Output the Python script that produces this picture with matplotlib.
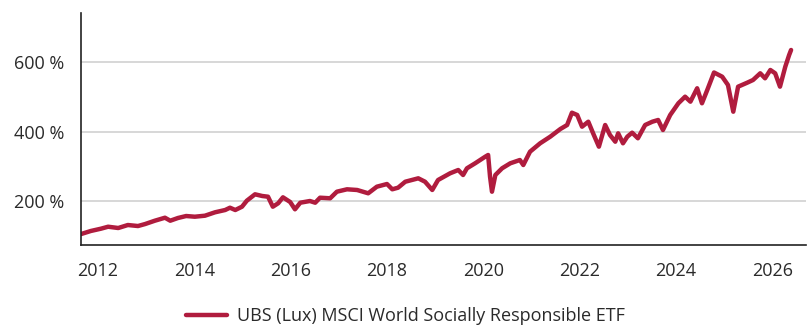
import matplotlib
matplotlib.use("Agg")
import matplotlib.pyplot as plt
from matplotlib.ticker import FuncFormatter

plt.rcParams['font.family'] = ['Open Sans', 'DejaVu Sans']

# Cumulative performance (%), sampled over time (decimal years)
years = [
    2011.65, 2011.85, 2012.06, 2012.21, 2012.42, 2012.62, 2012.83, 2012.98,
    2013.18, 2013.39, 2013.50, 2013.66, 2013.83, 2014.01, 2014.22, 2014.43,
    2014.64, 2014.74, 2014.85, 2014.99, 2015.09, 2015.26, 2015.41, 2015.53,
    2015.63, 2015.74, 2015.84, 2015.99, 2016.09, 2016.20, 2016.40, 2016.51,
    2016.61, 2016.82, 2016.96, 2017.17, 2017.38, 2017.61, 2017.79, 2018.00,
    2018.11, 2018.23, 2018.38, 2018.65, 2018.79, 2018.94, 2019.06, 2019.31,
    2019.48, 2019.58, 2019.66, 2019.83, 2020.04, 2020.10, 2020.14, 2020.18,
    2020.25, 2020.39, 2020.56, 2020.76, 2020.83, 2020.97, 2021.18, 2021.39,
    2021.60, 2021.74, 2021.84, 2021.95, 2022.05, 2022.18, 2022.28, 2022.40,
    2022.53, 2022.63, 2022.74, 2022.80, 2022.90, 2022.99, 2023.09, 2023.21,
    2023.36, 2023.51, 2023.63, 2023.73, 2023.88, 2024.05, 2024.19, 2024.30,
    2024.44, 2024.54, 2024.65, 2024.79, 2024.96, 2025.08, 2025.19, 2025.29,
    2025.48, 2025.60, 2025.75, 2025.85, 2025.96, 2026.06, 2026.16, 2026.27,
    2026.35, 2026.39,
]
performance = [
    105.0, 113.7, 120.3, 126.0, 122.3, 130.9, 128.0, 133.8,
    143.3, 151.9, 143.3, 151.1, 156.8, 154.8, 157.7, 167.5,
    174.1, 180.7, 174.1, 183.6, 200.9, 219.3, 214.4, 212.4,
    183.6, 193.4, 210.6, 197.1, 176.1, 195.1, 200.0, 195.1,
    209.5, 207.8, 226.8, 233.7, 231.7, 222.2, 241.2, 248.9,
    233.7, 238.3, 255.5, 265.3, 255.5, 231.7, 260.4, 279.7,
    289.2, 274.8, 294.1, 308.5, 327.5, 332.4, 269.9, 226.8,
    274.8, 294.1, 308.5, 318.0, 303.6, 341.9, 366.1, 385.1,
    407.2, 418.7, 454.1, 447.5, 413.8, 428.2, 394.8, 356.3,
    418.7, 390.0, 370.7, 394.8, 366.1, 385.1, 396.6, 380.5,
    418.7, 428.2, 433.1, 404.3, 447.5, 481.2, 500.2, 485.8,
    524.4, 481.2, 519.5, 569.8, 557.7, 533.8, 457.0, 529.0,
    540.5, 548.2, 567.5, 553.1, 577.0, 567.5, 529.0, 586.5,
    620.2, 634.6,
]
series_name = "UBS (Lux) MSCI World Socially Responsible ETF"
y_ticks = [200, 400, 600]
x_ticks = [2012, 2014, 2016, 2018, 2020, 2022, 2024, 2026]

line_color = "#B01C3E"
text_color = "#2a2a2a"

fig = plt.figure(figsize=(8.11, 3.29), dpi=100)
ax = fig.add_axes([81 / 811, 1 - 245 / 329, 725 / 811, 232 / 329])

ax.plot(years, performance, color=line_color, lw=3.2,
        solid_joinstyle="round", solid_capstyle="round", label=series_name)

ax.set_xlim(2011.647, 2026.70)
ax.set_ylim(73.4, 741)

ax.set_yticks(y_ticks)
ax.yaxis.set_major_formatter(FuncFormatter(lambda v, p: f"{int(v)} %"))
ax.set_xticks(x_ticks)
ax.set_xticklabels([str(t) for t in x_ticks])

ax.tick_params(axis="both", length=0, labelsize=13, colors=text_color)
ax.tick_params(axis="y", pad=12)
ax.tick_params(axis="x", pad=12)

ax.grid(axis="y", color="#d4d4d4", lw=1.3)
ax.set_axisbelow(True)
for side in ("top", "right"):
    ax.spines[side].set_visible(False)
for side in ("left", "bottom"):
    ax.spines[side].set_color("#222222")
    ax.spines[side].set_linewidth(1.2)

fig.legend(loc="center", bbox_to_anchor=(0.5, 1 - 316 / 329), frameon=False,
           fontsize=13, labelcolor=text_color, handlelength=2.3,
           handletextpad=0.55, borderpad=0, borderaxespad=0)

fig.savefig("out.png", dpi=100)
